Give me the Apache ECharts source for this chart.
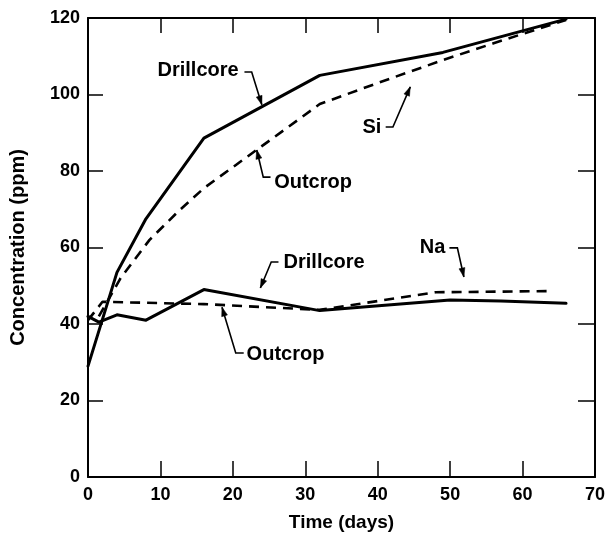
<!DOCTYPE html>
<html>
<head>
<meta charset="utf-8">
<script src="https://cdn.jsdelivr.net/npm/echarts@6/dist/echarts.min.js"></script>
<style>html,body{margin:0;padding:0;background:#fff}#c{width:608px;height:537px}</style>
</head>
<body>
<div id="c"></div>
<script>
// ---- data ----
var xTicks = [0, 10, 20, 30, 40, 50, 60, 70];
var yTicks = [0, 20, 40, 60, 80, 100, 120];
var siDrillDays = [0, 4, 8, 16, 32, 49, 66];
var siDrillVals = [29, 53.5, 67.5, 88.6, 105, 111, 119.7];
var siOutDays = [1.5, 4.5, 8.5, 12.5, 16, 24, 32, 40, 49, 56, 66];
var siOutVals = [42, 52, 62, 69.5, 75.5, 86.5, 97.5, 103, 109, 113.4, 119.5];
var naDrillDays = [0, 1.5, 4, 8, 16, 32, 50, 57, 66];
var naDrillVals = [42, 40.5, 42.4, 41, 49, 43.5, 46.3, 46, 45.4];
var naOutDays = [0, 2, 16, 32, 48, 64];
var naOutVals = [41, 45.8, 45.2, 43.7, 48.3, 48.6];
// annotations (data coordinates)
var labels = [
  {text: 'Drillcore', at: [9.6, 106.4], leader: [[21.6, 105.9], [22.6, 105.9], [24.0, 97.3]]},
  {text: 'Outcrop', at: [25.7, 76.9], leader: [[25.2, 78.4], [24.2, 78.4], [23.3, 85.5]]},
  {text: 'Si', at: [37.9, 91.5], leader: [[41.1, 91.5], [42.1, 91.5], [44.5, 102]]},
  {text: 'Drillcore', at: [27.0, 56.2], leader: [[26.3, 56.2], [25.3, 56.2], [23.8, 49.4]]},
  {text: 'Outcrop', at: [21.9, 31.9], leader: [[21.5, 32.4], [20.4, 32.4], [18.5, 44.4]]},
  {text: 'Na', at: [45.8, 60.1], leader: [[49.9, 59.9], [51.0, 59.9], [51.9, 52.3]]}
];

function zip(a, b) { return a.map(function (v, i) { return [v, b[i]]; }); }

var FONT = '"Liberation Sans", Arial, sans-serif';
var chart = echarts.init(document.getElementById('c'), null, {renderer: 'canvas'});
var axisLineStyle = {color: '#000', width: 2};
var solid = {color: '#000', width: 3, type: 'solid', cap: 'round', join: 'round'};
var dashed = {color: '#000', width: 2.6, type: [10, 7]};
var tickStyle = {color: '#000', width: 1.5};

chart.setOption({
  animation: false,
  backgroundColor: '#fff',
  grid: {left: 88, right: 9, top: 18, bottom: 60, containLabel: false},
  xAxis: [{
    type: 'value', min: 0, max: 70, interval: 10, position: 'bottom',
    name: 'Time (days)', nameLocation: 'middle', nameGap: 36,
    nameTextStyle: {fontFamily: FONT, fontWeight: 'bold', fontSize: 19, color: '#000'},
    axisLine: {show: true, onZero: false, lineStyle: axisLineStyle},
    axisTick: {show: true, inside: true, length: 16, lineStyle: tickStyle},
    axisLabel: {fontFamily: FONT, fontWeight: 'bold', fontSize: 18, color: '#000', margin: 9,
      formatter: function (v) { return xTicks.indexOf(v) >= 0 ? String(v) : ''; }},
    splitLine: {show: false}
  }, {
    type: 'value', min: 0, max: 70, interval: 10, position: 'top',
    axisLine: {show: true, onZero: false, lineStyle: axisLineStyle},
    axisTick: {show: true, inside: true, length: 15, lineStyle: tickStyle},
    axisLabel: {show: false}, splitLine: {show: false}
  }],
  yAxis: [{
    type: 'value', min: 0, max: 120, interval: 20, position: 'left',
    name: 'Concentration (ppm)', nameLocation: 'middle', nameGap: 60, nameRotate: 90,
    nameTextStyle: {fontFamily: FONT, fontWeight: 'bold', fontSize: 20, color: '#000'},
    axisLine: {show: true, onZero: false, lineStyle: axisLineStyle},
    axisTick: {show: true, inside: true, length: 15, lineStyle: tickStyle},
    axisLabel: {fontFamily: FONT, fontWeight: 'bold', fontSize: 18, color: '#000', margin: 8,
      formatter: function (v) { return yTicks.indexOf(v) >= 0 ? String(v) : ''; }},
    splitLine: {show: false}
  }, {
    type: 'value', min: 0, max: 120, interval: 20, position: 'right',
    axisLine: {show: true, onZero: false, lineStyle: axisLineStyle},
    axisTick: {show: true, inside: true, length: 17, lineStyle: tickStyle},
    axisLabel: {show: false}, splitLine: {show: false}
  }],
  series: [
    {name: 'Si Drillcore', type: 'line', data: zip(siDrillDays, siDrillVals), showSymbol: false, lineStyle: solid, z: 3},
    {name: 'Si Outcrop', type: 'line', data: zip(siOutDays, siOutVals), showSymbol: false, lineStyle: dashed, z: 2},
    {name: 'Na Drillcore', type: 'line', data: zip(naDrillDays, naDrillVals), showSymbol: false, lineStyle: solid, z: 3},
    {name: 'Na Outcrop', type: 'line', data: zip(naOutDays, naOutVals), showSymbol: false, lineStyle: dashed, z: 2}
  ]
});

// annotations converted through the chart's scales
var graphics = [];
labels.forEach(function (l) {
  var p = chart.convertToPixel({gridIndex: 0}, l.at);
  graphics.push({type: 'text', x: p[0], y: p[1], style: {
    text: l.text, fill: '#000', font: 'bold 20px ' + FONT, textAlign: 'left', textVerticalAlign: 'middle'}});
  var pts = l.leader.map(function (d) { return chart.convertToPixel({gridIndex: 0}, d); });
  graphics.push({type: 'polyline', shape: {points: pts}, style: {stroke: '#000', lineWidth: 1.6, fill: null}});
  var a = pts[pts.length - 2], b = pts[pts.length - 1];
  var dx = b[0] - a[0], dy = b[1] - a[1], len = Math.sqrt(dx * dx + dy * dy);
  var ux = dx / len, uy = dy / len, L = 9, W = 3;
  graphics.push({type: 'polygon', shape: {points: [
    [b[0], b[1]],
    [b[0] - ux * L - uy * W, b[1] - uy * L + ux * W],
    [b[0] - ux * L + uy * W, b[1] - uy * L - ux * W]
  ]}, style: {fill: '#000', stroke: '#000', lineWidth: 0.5}});
});
chart.setOption({graphic: graphics});
</script>
</body>
</html>
